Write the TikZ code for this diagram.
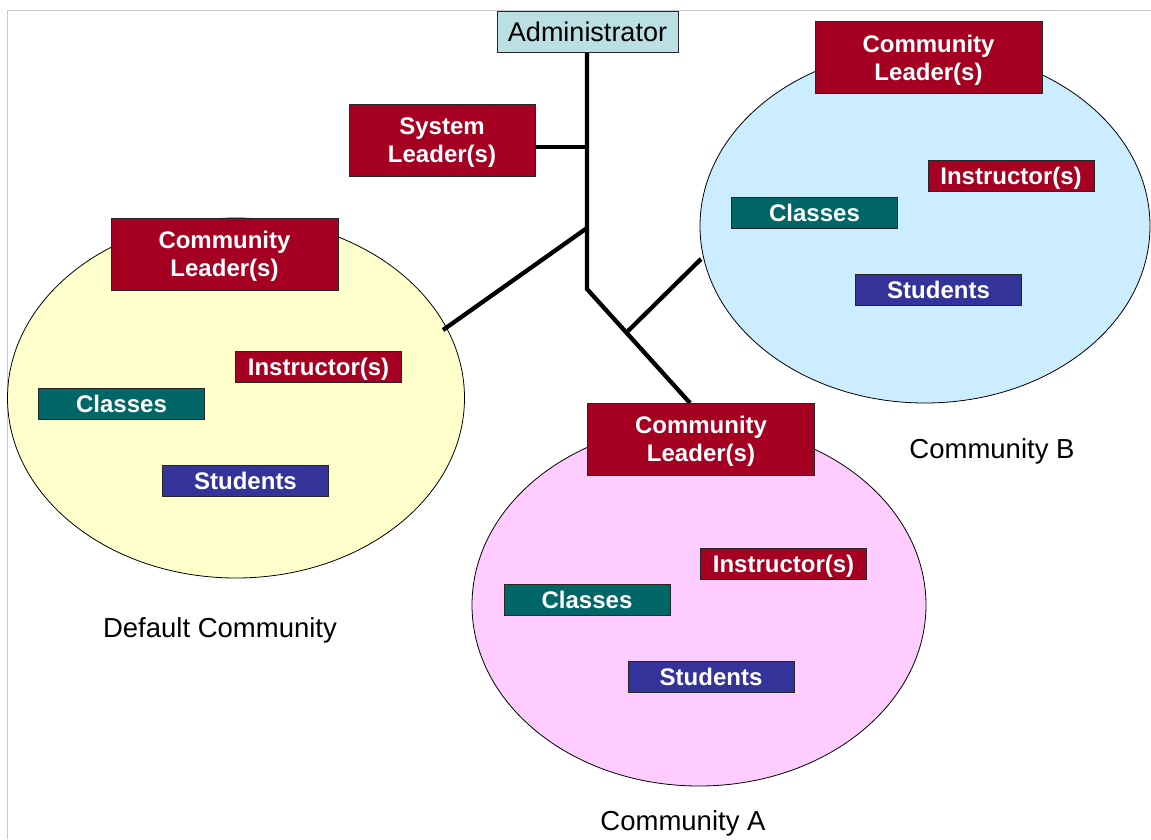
\documentclass[tikz,border=0pt]{standalone}
\usepackage{fontspec}
\setmainfont{Liberation Sans}
\usetikzlibrary{shapes.geometric}
\definecolor{cred}{HTML}{A50021}
\definecolor{cteal}{HTML}{006666}
\definecolor{cnavy}{HTML}{333399}
\definecolor{cadmin}{HTML}{BBE0E3}
\definecolor{cyel}{HTML}{FFFFCC}
\definecolor{cblue}{HTML}{CCECFF}
\definecolor{cpink}{HTML}{FFCCFF}
\definecolor{cframe}{HTML}{C8C8C8}
\tikzset{
  box/.style={draw=black!85, line width=0.8pt, inner sep=0pt, text=white, text depth=0pt,
    font=\fontsize{24}{28}\selectfont\bfseries, align=center},
  leader/.style={box, fill=cred, minimum width=227, minimum height=72},
  instr/.style={box, fill=cred, minimum width=166, minimum height=31},
  classes/.style={box, fill=cteal, minimum width=166, minimum height=31},
  students/.style={box, fill=cnavy, minimum width=166, minimum height=31},
  comm/.style={ellipse, draw=black, line width=0.8pt, inner sep=0pt},
  link/.style={line width=4.3pt, black},
  caption/.style={font=\fontsize{27.5}{30}\selectfont, text=black, text depth=0pt}
}
\begin{document}
\begin{tikzpicture}[x=1pt,y=-1pt]
\useasboundingbox (0,0) rectangle (1151,839);
\fill[white] (0,0) rectangle (1151,839);
% frame
\draw[cframe, line width=1pt] (7,839) -- (7,10) -- (1151,10);
% communities
\node[comm, fill=cyel, minimum width=457, minimum height=360] (defc) at (236,398) {};
\node[comm, fill=cblue, minimum width=450, minimum height=354] (commb) at (925,226) {};
\node[comm, fill=cpink, minimum width=454, minimum height=362] (comma) at (699,605) {};
% connectors
\coordinate (knee) at (587,289);
\coordinate (jdef) at (587,228);
\coordinate (jsys) at (587,147);
\coordinate (jb) at (628,331);
\coordinate (defend) at (443,330);
\coordinate (bend) at (701,259);
\coordinate (aend) at (690,403);
\draw[link] (587,52) -- (knee) -- (aend);
\draw[link] (jdef) -- (defend);
\draw[link] (jb) -- (bend);
\draw[link] (535,147) -- (jsys);
% administrator
\node[draw=black!85, line width=0.8pt, fill=cadmin, minimum width=181, minimum height=41, inner sep=0pt,
  text depth=0pt, font=\fontsize{27}{30}\selectfont] (admin) at (587.5,31.5) {Administrator};
% system leader
\node[box, fill=cred, minimum width=186, minimum height=72] (sys) at (442,140) {System\\Leader(s)};
% default community
\node[leader] (ldef) at (224.5,254) {Community\\Leader(s)};
\node[instr] (idef) at (318.5,367) {Instructor(s)};
\node[classes] (cdef) at (121.5,403.5) {Classes};
\node[students] (sdef) at (245.5,480.5) {Students};
\node[caption] (tdef) at (220,628) {Default Community};
% community B
\node[leader] (lb) at (928.5,57.5) {Community\\Leader(s)};
\node[instr] (ib) at (1011,176) {Instructor(s)};
\node[classes] (cb) at (814.5,212.5) {Classes};
\node[students] (sb) at (938.5,290) {Students};
\node[caption] (tb) at (992,449) {Community B};
% community A
\node[leader] (la) at (701,439) {Community\\Leader(s)};
\node[instr] (ia) at (783.5,564) {Instructor(s)};
\node[classes] (ca) at (587,600) {Classes};
\node[students] (sa) at (711,676.5) {Students};
\node[caption] (ta) at (683,821) {Community A};
\end{tikzpicture}
\end{document}
